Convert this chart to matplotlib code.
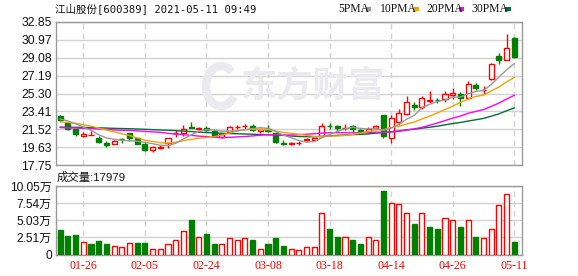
import matplotlib
matplotlib.use("Agg")
import matplotlib.pyplot as plt
from matplotlib.patches import Rectangle, Arc

# ---------------- data ----------------
opens = [22.9, 22.2, 21.55, 20.8, 20.9, 20.6, 20.05, 19.95, 20.5, 21.1,
         20.55, 19.95, 19.35, 19.55, 20.1, 21.1, 21.15, 21.8, 21.55, 21.7,
         21.35, 20.7, 21.2, 21.75, 21.85, 21.9, 21.3, 21.5, 21.1, 20.1,
         20.0, 20.05, 20.35, 20.35, 20.85, 21.9, 21.85, 21.65, 21.9, 21.45,
         21.25, 21.65, 23.0, 20.65, 22.3, 23.1, 24.1, 23.9, 24.55, 24.65,
         24.75, 25.1, 25.3, 24.85, 26.25, 25.65, 26.8, 29.25, 28.8, 31.2]
highs = [23.0, 22.3, 21.6, 21.2, 21.3, 20.85, 20.3, 20.35, 20.55, 21.1,
         20.65, 20.1, 19.75, 19.85, 20.6, 21.45, 22.0, 22.3, 21.8, 21.85,
         21.4, 21.15, 21.85, 21.95, 22.1, 22.05, 21.6, 21.95, 21.15, 20.4,
         20.2, 20.25, 20.65, 20.6, 22.15, 22.2, 21.95, 22.05, 21.95, 21.6,
         21.75, 21.95, 23.05, 23.05, 23.65, 25.0, 24.4, 25.05, 25.55, 24.8,
         25.6, 25.85, 25.45, 26.6, 26.4, 26.05, 28.5, 29.6, 31.6, 31.3]
lows = [22.4, 21.45, 20.85, 20.7, 20.9, 20.1, 19.65, 19.95, 20.05, 20.3,
        19.95, 19.2, 19.1, 19.4, 19.5, 20.7, 20.85, 21.65, 21.45, 21.3,
        20.8, 20.65, 21.15, 21.55, 21.6, 21.35, 21.1, 21.25, 20.1, 19.85,
        19.85, 19.9, 20.2, 20.3, 20.75, 21.6, 21.35, 21.45, 21.1, 21.1,
        21.1, 21.6, 20.6, 20.1, 21.95, 23.0, 23.6, 23.7, 24.25, 24.3,
        24.4, 24.7, 23.95, 24.75, 25.7, 25.2, 26.75, 28.4, 28.8, 29.05]
closes = [22.5, 21.6, 21.0, 21.0, 20.95, 20.2, 19.9, 20.3, 20.45, 20.65,
          20.0, 19.3, 19.6, 19.6, 20.55, 21.15, 21.6, 21.65, 21.65, 21.4,
          20.85, 21.05, 21.75, 21.8, 21.9, 21.45, 21.55, 21.35, 20.2, 20.0,
          20.05, 20.1, 20.45, 20.6, 21.9, 21.85, 21.7, 21.7, 21.55, 21.25,
          21.6, 21.85, 20.8, 22.75, 23.2, 24.35, 23.85, 24.85, 24.6, 24.6,
          25.2, 25.35, 24.85, 26.3, 25.9, 25.7, 28.45, 28.8, 30.15, 29.2]

ma5 = [22.6, 22.4, 22.1, 21.75, 21.41, 20.95, 20.61, 20.47, 20.36, 20.3,
       20.26, 20.14, 20.0, 19.83, 19.81, 20.04, 20.5, 20.91, 21.32, 21.49,
       21.43, 21.32, 21.34, 21.37, 21.47, 21.59, 21.69, 21.61, 21.29, 20.91,
       20.63, 20.34, 20.16, 20.24, 20.62, 20.98, 21.3, 21.55, 21.74, 21.61,
       21.56, 21.59, 21.41, 21.65, 22.04, 22.59, 22.99, 23.8, 24.17, 24.45,
       24.62, 24.92, 24.92, 25.26, 25.52, 25.62, 26.24, 27.03, 27.8, 28.46]
ma10 = [22.3, 22.25, 22.15, 22.0, 21.85, 21.65, 21.45, 21.25, 21.05, 20.86,
        20.61, 20.38, 20.24, 20.1, 20.06, 20.15, 20.32, 20.46, 20.58, 20.65,
        20.74, 20.91, 21.12, 21.34, 21.48, 21.51, 21.5, 21.47, 21.33, 21.19,
        21.1, 21.0, 20.88, 20.76, 20.77, 20.81, 20.82, 20.86, 20.99, 21.12,
        21.27, 21.45, 21.48, 21.7, 21.83, 22.08, 22.29, 22.61, 22.91, 23.25,
        23.61, 23.96, 24.36, 24.72, 24.99, 25.12, 25.58, 25.98, 26.53, 26.99]
ma20 = [21.7, 21.68, 21.65, 21.62, 21.6, 21.55, 21.5, 21.45, 21.42, 21.4,
        21.35, 21.3, 21.25, 21.2, 21.1, 21.0, 20.95, 20.88, 20.8, 20.75,
        20.67, 20.64, 20.67, 20.72, 20.76, 20.82, 20.9, 20.96, 20.95, 20.91,
        20.92, 20.96, 21.0, 21.05, 21.12, 21.15, 21.16, 21.16, 21.15, 21.15,
        21.18, 21.22, 21.18, 21.23, 21.3, 21.44, 21.56, 21.73, 21.95, 22.18,
        22.44, 22.7, 22.92, 23.21, 23.41, 23.6, 23.94, 24.29, 24.72, 25.12]
ma30 = [21.75, 21.74, 21.73, 21.72, 21.7, 21.68, 21.65, 21.62, 21.6, 21.58,
        21.55, 21.52, 21.48, 21.45, 21.42, 21.38, 21.33, 21.28, 21.22, 21.18,
        21.14, 21.1, 21.07, 21.05, 21.02, 21.0, 20.97, 20.94, 20.91, 20.89,
        20.81, 20.76, 20.74, 20.73, 20.76, 20.82, 20.88, 20.92, 20.96, 20.98,
        21.03, 21.12, 21.16, 21.26, 21.35, 21.46, 21.53, 21.64, 21.74, 21.85,
        21.99, 22.13, 22.24, 22.39, 22.53, 22.67, 22.9, 23.15, 23.48, 23.78]

volumes = [3.58, 2.70, 2.84, 1.81, 1.52, 1.96, 1.52, 1.18, 1.03, 1.76,
           1.67, 1.67, 0.88, 0.74, 1.52, 2.11, 3.38, 5.05, 2.50, 2.99,
           1.52, 1.52, 2.35, 2.20, 2.35, 2.11, 0.88, 1.52, 2.40, 1.23,
           0.88, 0.59, 1.03, 1.03, 6.03, 3.73, 2.55, 2.50, 2.11, 1.52,
           2.50, 2.20, 9.31, 7.50, 7.40, 6.03, 4.46, 6.03, 4.02, 3.73,
           5.29, 5.00, 4.02, 5.00, 2.55, 2.35, 3.68, 7.25, 8.82, 1.80]
vol_up = [0, 0, 0, 1, 0, 0, 0, 1, 1, 1,
          0, 0, 1, 1, 1, 1, 1, 0, 1, 0,
          0, 1, 1, 1, 1, 0, 1, 0, 0, 0,
          1, 1, 1, 1, 1, 0, 0, 1, 0, 0,
          1, 1, 0, 1, 1, 1, 0, 1, 0, 0,
          1, 1, 0, 1, 0, 1, 1, 1, 1, 0]

tick_pos = [3, 11, 19, 27, 35, 43, 51, 59]
tick_labels = ["01-26", "02-05", "02-24", "03-08", "03-18", "04-14", "04-26", "05-11"]

price_ticks = [17.75, 19.63, 21.52, 23.41, 25.30, 27.19, 29.08, 30.97, 32.85]
price_labels = ["17.75", "19.63", "21.52", "23.41", "25.30", "27.19", "29.08", "30.97", "32.85"]
vol_ticks = [0, 2.51, 5.03, 7.54, 10.05]
vol_labels = ["0", "2.51万", "5.03万", "7.54万", "10.05万"]

title = "江山股份[600389] 2021-05-11 09:49"
vol_title = "成交量:17979"
ma_names = ["5PMA", "10PMA", "20PMA", "30PMA"]

# ---------------- style ----------------
RED = "#ff0000"
GREEN = "#008000"
MA_COLORS = ["#999999", "#f5a300", "#ff00ff", "#006f36"]
GRID = "#d2d2d2"
SPINE = "#999999"
WM = "#ebebef"
W, H = 578, 276

fig = plt.figure(figsize=(W / 100, H / 100), dpi=100)
fig.patch.set_facecolor("white")
ax1 = fig.add_axes([56 / W, 1 - 165 / H, 466 / W, 143 / H])
ax2 = fig.add_axes([56 / W, 1 - 254.5 / H, 466 / W, 68.5 / H])

n = len(closes)
xs = list(range(n))
bw = 0.66

for ax in (ax1, ax2):
    ax.set_xlim(-0.55, 60.0)
    for s in ax.spines.values():
        s.set_color(SPINE)
        s.set_linewidth(1.0)
    for p in tick_pos:
        ax.axvline(p, color=GRID, lw=1.0, ls=(0, (4, 3)), zorder=0)
    ax.tick_params(length=0)

# price panel
ax1.set_ylim(17.75, 32.85)
for t in price_ticks:
    ax1.axhline(t, color=GRID, lw=1.0, zorder=0)
ax1.set_yticks(price_ticks)
ax1.set_yticklabels(price_labels, family="Liberation Sans", fontsize=8.8, color="#111111")
ax1.tick_params(axis="y", pad=3)
ax1.set_xticks([])

# watermark (logo + text)
fig.text(313 / W, 1 - 86 / H, "东方财富", ha="center", va="center",
         fontsize=26, fontweight="bold", color=WM, family="Noto Sans CJK SC",
         zorder=0.5)
fig.add_artist(Arc((221 / W, 1 - 86 / H), 30 / W, 40 / H, theta1=70, theta2=300,
                   transform=fig.transFigure, color=WM, lw=6, zorder=0.5))

for i in xs:
    o, h, l, c = opens[i], highs[i], lows[i], closes[i]
    up = c >= o
    col = RED if up else GREEN
    ax1.vlines(i, l, h, color=col, lw=1.0, zorder=2)
    ax1.bar(i, max(abs(c - o), 0.04), bottom=min(o, c), width=bw,
            facecolor="white" if up else GREEN, edgecolor=col, linewidth=1.0, zorder=3)

for ma, col in zip([ma30, ma20, ma10, ma5], MA_COLORS[::-1]):
    ax1.plot(xs, ma, color=col, lw=1.0, zorder=4)

# volume panel
ax2.set_ylim(0, 10.05)
for t in vol_ticks:
    ax2.axhline(t, color=GRID, lw=1.0, zorder=0)
ax2.set_yticks(vol_ticks)
ax2.set_yticklabels(vol_labels, family=["Liberation Sans", "Noto Sans CJK SC"],
                    fontsize=8.6, color="#111111")
ax2.tick_params(axis="y", pad=3)
for i in xs:
    up = vol_up[i] == 1
    ax2.bar(i, volumes[i], width=bw, facecolor="white" if up else GREEN,
            edgecolor=RED if up else GREEN, linewidth=1.0, zorder=3)
ax2.set_xticks(tick_pos)
ax2.set_xticklabels(tick_labels, family="Liberation Serif", fontsize=8.6, color=RED)
ax2.tick_params(axis="x", pad=4)

# header texts
fig.text(55 / W, 1 - 8.5 / H, title, ha="left", va="center",
         family=["DejaVu Sans Mono", "Noto Sans CJK SC"], fontsize=7.6, color="#111111")
fig.text(57 / W, 1 - 177 / H, vol_title, ha="left", va="center",
         family=["Liberation Sans", "Noto Sans CJK SC"], fontsize=8.2, color="#111111")

leg_text_x = [338, 380, 426, 471.5]
leg_box_x = [365.5, 413.5, 458.5, 505]
for name, tx, bx, col in zip(ma_names, leg_text_x, leg_box_x, MA_COLORS):
    fig.text(tx / W, 1 - 8.5 / H, name, ha="left", va="center",
             family="Liberation Serif", fontsize=8.4, color="#111111")
    fig.add_artist(Rectangle((bx / W, 1 - 10.5 / H), 5.5 / W, 3.5 / H,
                             transform=fig.transFigure, facecolor=col, edgecolor="none"))

fig.savefig("out.png", dpi=100, facecolor="white")
